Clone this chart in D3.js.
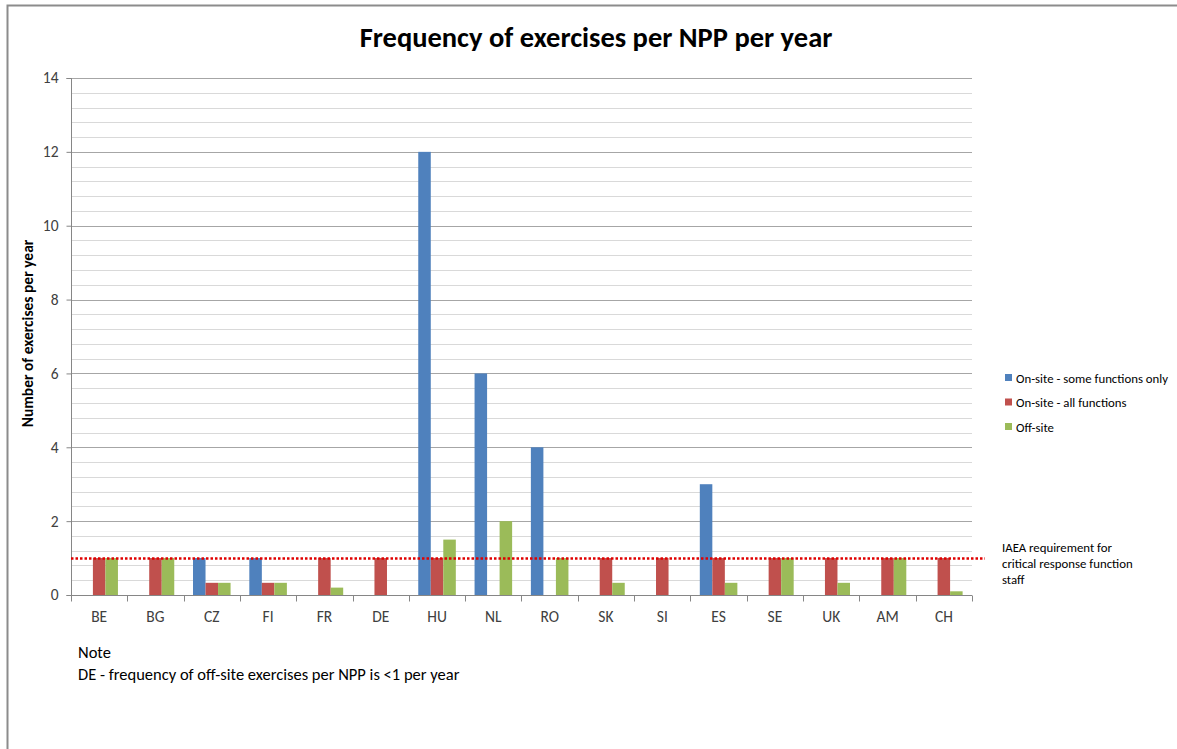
<!DOCTYPE html>
<html>
<head>
<meta charset="utf-8">
<script src="https://cdn.jsdelivr.net/npm/d3@7"></script>
<style>
  body { margin: 0; background: #fff; }
  text { font-family: Calibri, Carlito, Lato, "Open Sans", sans-serif; fill: #000; }
</style>
</head>
<body>
<div class="container"></div>
<script>
// categories and series
const countries = ["BE", "BG", "CZ", "FI", "FR", "DE", "HU", "NL", "RO", "SK", "SI", "ES", "SE", "UK", "AM", "CH"];
const seriesNames = ["On-site - some functions only", "On-site - all functions", "Off-site"];
const someFunctions = [0, 0, 1, 1, 0, 0, 12, 6, 4, 0, 0, 3, 0, 0, 0, 0];
const allFunctions = [1, 1, 0.33, 0.33, 1, 1, 1, 0, 0, 1, 1, 1, 1, 1, 1, 1];
const offSite = [1, 1, 0.33, 0.33, 0.2, 0, 1.5, 2, 1, 0.33, 0, 0.33, 1, 0.33, 1, 0.1];
const yTicks = [0, 2, 4, 6, 8, 10, 12, 14];
const requirement = 1;
const colors = ["#4F81BD", "#C0504D", "#9BBB59"];

const svgWidth = 1177, svgHeight = 749;
const margin = { top: 78, right: 205, bottom: 154, left: 71 };
const width = svgWidth - margin.left - margin.right;
const height = svgHeight - margin.top - margin.bottom;

const svg = d3.select(".container").append("svg")
    .attr("width", svgWidth)
    .attr("height", svgHeight);

// outer frame
svg.append("path")
    .attr("d", `M7.5,${svgHeight} V5.5 H${svgWidth}`)
    .attr("fill", "none")
    .attr("stroke", "#8c8c8c")
    .attr("stroke-width", 2);

// title
svg.append("text")
    .attr("x", 596)
    .attr("y", 47)
    .attr("text-anchor", "middle")
    .style("font-size", "28.5px")
    .style("font-weight", "bold")
    .text("Frequency of exercises per NPP per year");

const chartGroup = svg.append("g")
    .attr("transform", `translate(${margin.left}, ${margin.top})`);

// scales
const x0 = d3.scaleBand().domain(countries).range([0, width]).paddingInner(0.333).paddingOuter(0.1667);
const x1 = d3.scaleBand().domain(d3.range(3)).range([0, x0.bandwidth()]);
const y = d3.scaleLinear().domain([0, 14]).range([height, 0]);

// minor gridlines
chartGroup.append("g").selectAll("line")
    .data(d3.range(0.4, 14.01, 0.4).filter(v => Math.abs(v / 2 - Math.round(v / 2)) > 0.01))
    .enter().append("line")
    .attr("x1", 0).attr("x2", width)
    .attr("y1", d => Math.round(y(d)) + 0.5).attr("y2", d => Math.round(y(d)) + 0.5)
    .attr("stroke", "#d9d9d9");

// major gridlines
chartGroup.append("g").selectAll("line")
    .data(yTicks.slice(1))
    .enter().append("line")
    .attr("x1", 0).attr("x2", width)
    .attr("y1", d => Math.round(y(d)) + 0.5).attr("y2", d => Math.round(y(d)) + 0.5)
    .attr("stroke", "#a6a6a6");

// bars
const allSeries = [someFunctions, allFunctions, offSite];
const barGroups = chartGroup.append("g").selectAll("g")
    .data(countries)
    .enter().append("g")
    .attr("transform", d => `translate(${x0(d)},0)`);

barGroups.selectAll("rect")
    .data((d, i) => allSeries.map((s, k) => ({ k: k, v: s[i] })))
    .enter().append("rect")
    .attr("x", d => x1(d.k))
    .attr("width", x1.bandwidth())
    .attr("y", d => y(d.v))
    .attr("height", d => height - y(d.v))
    .attr("fill", d => colors[d.k]);

// y axis
const leftAxis = d3.axisLeft(y).tickValues(yTicks).tickSize(5).tickPadding(8);
const yAxis = chartGroup.append("g").attr("transform", "translate(0.5,0)").call(leftAxis);
yAxis.select(".domain").attr("stroke", "#868686").attr("d", `M-5,${height + 0.5}H0V0.5H-5`);
yAxis.selectAll(".tick line").attr("stroke", "#868686");
yAxis.selectAll("text").style("font-size", "15.5px").style("fill", "#404040").attr("font-family", null);

// x axis
const bottomAxis = d3.axisBottom(x0).tickSize(0).tickPadding(15);
const xAxis = chartGroup.append("g").attr("transform", `translate(0, ${height + 0.5})`).call(bottomAxis);
xAxis.select(".domain").attr("stroke", "#868686").attr("d", `M0,0H${width}`);
xAxis.selectAll("text").style("font-size", "15.5px").style("fill", "#404040").attr("font-family", null);
const step = x0.step();
xAxis.append("g").selectAll("line")
    .data(d3.range(countries.length + 1))
    .enter().append("line")
    .attr("x1", d => Math.round(d * step) + 0.5).attr("x2", d => Math.round(d * step) + 0.5)
    .attr("y1", 0).attr("y2", 6)
    .attr("stroke", "#868686");

// requirement line
chartGroup.append("line")
    .attr("x1", 0).attr("x2", 914)
    .attr("y1", y(requirement) + 0.5).attr("y2", y(requirement) + 0.5)
    .attr("stroke", "#e00000")
    .attr("stroke-width", 2.5)
    .attr("stroke-dasharray", "2.5,2");

// y axis label
svg.append("text")
    .attr("transform", "rotate(-90)")
    .attr("x", -(margin.top + height / 2) + 3)
    .attr("y", 33)
    .attr("text-anchor", "middle")
    .style("font-size", "15.5px")
    .style("font-weight", "bold")
    .text("Number of exercises per year");

// legend
const legend = svg.append("g").attr("transform", "translate(1005, 378)");
seriesNames.forEach((name, i) => {
    const row = legend.append("g").attr("transform", `translate(0, ${i * 24.5})`);
    row.append("rect").attr("x", 0).attr("y", -4).attr("width", 7).attr("height", 7).attr("fill", colors[i]);
    row.append("text").attr("x", 11).attr("y", 4.5).style("font-size", "12.8px").text(name);
});

// requirement annotation
const note = svg.append("text").attr("x", 1002).attr("y", 552).style("font-size", "12.8px");
["IAEA requirement for", "critical response function", "staff"].forEach((t, i) => {
    note.append("tspan").attr("x", 1002).attr("dy", i === 0 ? 0 : 16).text(t);
});

// footnote
svg.append("text").attr("x", 78).attr("y", 658).style("font-size", "16.5px").text("Note");
svg.append("text").attr("x", 78).attr("y", 680).style("font-size", "16.5px")
    .text("DE - frequency of off-site exercises per NPP is <1 per year");
</script>
</body>
</html>
